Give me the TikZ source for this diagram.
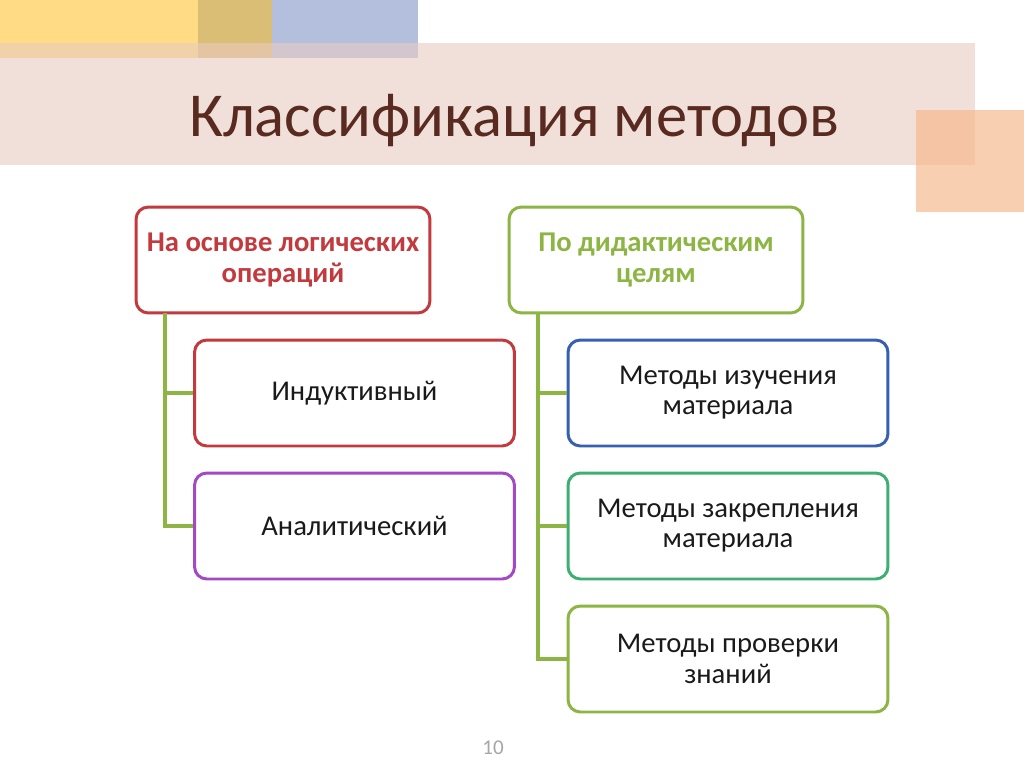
\documentclass[tikz,border=0pt]{standalone}
\usepackage{fontspec}
\setmainfont{Carlito}
\definecolor{cyel}{HTML}{FEDB84}
\definecolor{ctan}{HTML}{DBBE76}
\definecolor{cblu}{HTML}{B3BFDD}
\definecolor{cpink}{HTML}{E9CBC1}
\definecolor{corg}{HTML}{F6B688}
\definecolor{ctitle}{HTML}{582A20}
\definecolor{cred}{HTML}{C23A3E}
\definecolor{cpur}{HTML}{A449C4}
\definecolor{cgrn}{HTML}{8DB543}
\definecolor{cblue}{HTML}{3760B0}
\definecolor{cteal}{HTML}{3EAE72}
\definecolor{ctext}{HTML}{1A1A1A}
\tikzset{
  box/.style={draw, line width=1.7pt, rounded corners=7pt, fill=white,
    minimum width=6.4cm, minimum height=2.12cm, align=center,
    text=ctext, font=\fontsize{16.3}{17.2}\selectfont},
  hbox/.style={box, minimum width=5.88cm, font=\fontsize{16.3}{17.2}\selectfont\bfseries},
  conn/.style={draw=cgrn, line width=1.8pt}
}
\begin{document}
\begin{tikzpicture}[x=0.02cm,y=-0.02cm]
\useasboundingbox (0,0) rectangle (1024,767);
\fill[white] (0,0) rectangle (1024,767);
% decorations
\fill[cyel] (0,0) rectangle (198,58);
\fill[ctan] (198,0) rectangle (272,58);
\fill[cblu] (272,0) rectangle (418,58);
\fill[cpink, fill opacity=0.6] (0,43) rectangle (975,165);
\fill[corg, fill opacity=0.65] (916,110) rectangle (1024,212);
\node[text=ctitle, font=\fontsize{35.6}{40}\selectfont, anchor=base] (title) at (514,136) {Классификация методов};
% boxes
\node[hbox, draw=cred, text=cred] (lh) at (283,260) {На основе логических\\операций};
\node[hbox, draw=cgrn, text=cgrn] (rh) at (656,260) {По дидактическим\\целям};
\node[box, draw=cred] (ind) at (354.5,393) {Индуктивный};
\node[box, draw=cpur] (ana) at (354.5,526) {Аналитический};
\node[box, draw=cblue] (m1) at (728,393) {Методы изучения\\материала};
\node[box, draw=cteal] (m2) at (728,526) {Методы закрепления\\материала};
\node[box, draw=cgrn] (m3) at (728,659) {Методы проверки\\знаний};
% connectors
\coordinate (lt) at (165,313);
\coordinate (rt) at (538,313);
\draw[conn] (lt) |- (ind.west);
\draw[conn] (lt) |- (ana.west);
\draw[conn] (rt) |- (m1.west);
\draw[conn] (rt) |- (m2.west);
\draw[conn] (rt) |- (m3.west);
\node[text=gray!70, font=\fontsize{12}{13}\selectfont] (pg) at (493,748) {10};
\end{tikzpicture}
\end{document}
